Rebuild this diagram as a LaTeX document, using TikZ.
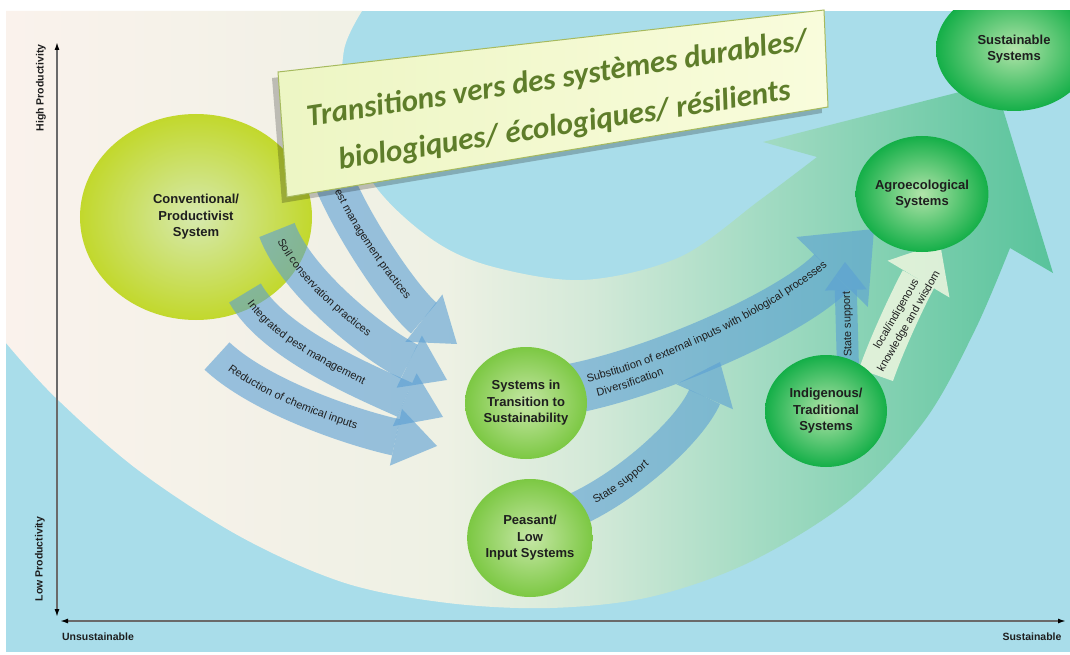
\documentclass[tikz,border=0pt]{standalone}
\usepackage{fontspec}
\setmainfont{Liberation Sans}
\newfontfamily\titlef{Carlito}
\usetikzlibrary{arrows.meta,shapes.geometric,decorations.text}

\definecolor{bgblue}{HTML}{A9DDEA}
\definecolor{cream}{HTML}{FAF2EC}
\definecolor{creamb}{HTML}{EEF1E4}
\definecolor{swgA}{HTML}{D3E9D8}
\definecolor{swgB}{HTML}{A3DBC3}
\definecolor{swgC}{HTML}{58C39B}
\definecolor{arrblue}{HTML}{5A9FD4}
\definecolor{lightarr}{HTML}{EEF6DF}
\definecolor{convin}{HTML}{D6E9AE}
\definecolor{convout}{HTML}{C2D82C}
\definecolor{midin}{HTML}{C6E7A6}
\definecolor{midout}{HTML}{7CC843}
\definecolor{darkin}{HTML}{B2E4AA}
\definecolor{darkout}{HTML}{14AF48}
\definecolor{txt}{HTML}{1E1E1E}
\definecolor{titlegreen}{HTML}{5E7D2A}
\definecolor{boxA}{HTML}{EDF6C4}
\definecolor{boxB}{HTML}{F9FCDC}
\definecolor{boxline}{HTML}{A6BA5E}
\definecolor{axisgray}{HTML}{6A6A6A}

\pgfdeclarehorizontalshading{swooshshade}{100bp}{color(0bp)=(cream); color(25bp)=(cream); color(46bp)=(creamb); color(53bp)=(swgA); color(61bp)=(swgB); color(75bp)=(swgC); color(100bp)=(swgC)}

\newcommand\arrfont{\fontsize{11bp}{13bp}\selectfont\color{txt}}
\newcommand\circfont{\bfseries\fontsize{13bp}{16.5bp}\selectfont}
\newcommand\axfont{\bfseries\fontsize{10.5bp}{12bp}\selectfont}

\begin{document}
\begin{tikzpicture}[x=1bp,y=-1bp,
  blueband/.style={draw=arrblue, opacity=0.6, line width=#1},
  lightband/.style={draw=lightarr, opacity=0.85, line width=#1},
  circ/.style={ellipse, inner sep=0pt, align=center, font=\circfont, text=txt},
  axisline/.style={draw=axisgray, line width=1.5bp},
  axlabel/.style={font=\axfont, text=txt, inner sep=0pt}]
\useasboundingbox (0,0) rectangle (1070,655);
\fill[white] (0,0) rectangle (1070,655);
\begin{scope}
\clip (6,11) rectangle (1070,652);
\fill[bgblue] (6,11) rectangle (1070,652);
% big swoosh
\shade[shading=swooshshade] (6,11) -- (362,11)
  -- plot[smooth,tension=0.55] coordinates {(362,11) (344,50) (345,110) (373,183) (430,238) (490,266) (583,280) (680,257) (760,200) (817,157)}
  -- (763,142) -- (995,83) -- (1053,273)
  -- plot[smooth,tension=0.55] coordinates {(1010,248) (975,330) (925,420) (850,500) (750,562) (650,597) (550,608) (448,603) (345,583) (241,537) (138,470) (55,397) (6,343)}
  -- cycle;

% right-hand arrows (under circles)
\coordinate (eS) at (565,390); \coordinate (eT) at (874,229);
\draw[blueband=50bp, -{Triangle[width=100bp,length=60bp,line width=0pt]}] (eS) .. controls (650,375) and (790,315) .. (eT);
\path[decorate, decoration={text along path, text={|\arrfont|Substitution of external inputs with biological processes}, text align={left, left indent=24bp}, raise=3bp}] (eS) .. controls (650,375) and (790,315) .. (eT);
\path[decorate, decoration={text along path, text={|\arrfont|Diversification}, text align={left, left indent=30bp}, raise=-13bp}] (eS) .. controls (650,375) and (790,315) .. (eT);

\coordinate (fS) at (575,510); \coordinate (fT) at (720,362);
\draw[blueband=34bp, -{Triangle[width=62bp,length=38bp,line width=0pt]}] (fS) .. controls (630,485) and (690,430) .. (fT);
\path[decorate, decoration={text along path, text={|\arrfont|State support}, text align={left, left indent=21bp}, raise=-4bp}] (fS) .. controls (630,485) and (690,430) .. (fT);

\coordinate (gS) at (848,368); \coordinate (gT) at (845,262);
\draw[blueband=22bp, -{Triangle[width=42bp,length=28bp,line width=0pt]}] (gS) -- (gT);
\path[decorate, decoration={text along path, text={|\arrfont|State support}, text align={left, left indent=11bp}, raise=-4bp}] (gS) -- (gT);

\coordinate (hS) at (876,375); \coordinate (hT) at (940,243);
\draw[lightband=36bp, -{Triangle[width=72bp,length=42bp,line width=0pt]}] (hS) .. controls (890,335) and (915,285) .. (hT);
\node[rotate=60, align=center, font=\fontsize{11bp}{14.5bp}\selectfont, text=txt, inner sep=0pt] (hlab) at (903,318) {local/indigenous\\knowledge and wisdom};

% circles
\node[circ, minimum width=122bp, minimum height=112bp, inner color=midin, outer color=midout] (trans) at (526,403) {Systems in\\Transition to\\Sustainability};
\node[circ, minimum width=124bp, minimum height=118bp, inner color=midin, outer color=midout] (peas) at (530,538) {Peasant/\\Low\\Input Systems};
\node[circ, minimum width=122bp, minimum height=112bp, inner color=darkin, outer color=darkout] (indig) at (826,411) {Indigenous/\\Traditional\\Systems};
\node[circ, minimum width=130bp, minimum height=116bp, inner color=darkin, outer color=darkout] (agro) at (922,194) {Agroecological\\Systems};
\node[circ, minimum width=156bp, minimum height=124bp, inner color=darkin, outer color=darkout] (sust) at (1014,49) {Sustainable\\Systems};
\node[circ, minimum width=232bp, minimum height=206bp, inner color=convin, outer color=convout] (conv) at (196,217) {Conventional/\\Productivist\\System};

% left-hand blue arrows
\coordinate (aS) at (322,140); \coordinate (aT) at (457,344);
\draw[blueband=40bp, -{Triangle[width=60bp,length=42bp,line width=0pt]}] (aS) .. controls (328,195) and (402,301) .. (aT);
\path[decorate, decoration={text along path, text={|\arrfont|Pest management practices}, text align={left, left indent=45bp}, raise=-4bp}] (aS) .. controls (328,195) and (402,301) .. (aT);

\coordinate (bS) at (277,230); \coordinate (bT) at (447,380);
\draw[blueband=38bp, -{Triangle[width=58bp,length=42bp,line width=0pt]}] (bS) .. controls (296,282) and (375,345) .. (bT);
\path[decorate, decoration={text along path, text={|\arrfont|Soil conservation practices}, text align={left, left indent=10bp}, raise=-4bp}] (bS) .. controls (296,282) and (375,345) .. (bT);

\coordinate (cS) at (245,293); \coordinate (cT) at (443,417);
\draw[blueband=37bp, -{Triangle[width=58bp,length=42bp,line width=0pt]}] (cS) .. controls (273,343) and (363,381) .. (cT);
\path[decorate, decoration={text along path, text={|\arrfont|Integrated pest management}, text align={left, left indent=10bp}, raise=-4bp}] (cS) .. controls (273,343) and (363,381) .. (cT);

\coordinate (dS) at (217,356); \coordinate (dT) at (437,446);
\draw[blueband=37bp, -{Triangle[width=58bp,length=42bp,line width=0pt]}] (dS) .. controls (262,398) and (357,429) .. (dT);
\path[decorate, decoration={text along path, text={|\arrfont|Reduction of chemical inputs}, text align={left, left indent=17bp}, raise=-4bp}] (dS) .. controls (262,398) and (357,429) .. (dT);

% axes
\coordinate (ytop) at (57,42); \coordinate (ybot) at (57,617);
\coordinate (xleft) at (60,621); \coordinate (xright) at (1066,621);
\draw[axisline, {Latex[length=8bp,width=5bp,color=black]}-{Latex[length=8bp,width=5bp,color=black]}] (ybot) -- (ytop);
\draw[axisline, {Latex[length=8bp,width=5bp,color=black]}-{Latex[length=8bp,width=5bp,color=black]}] (xleft) -- (xright);
\node[axlabel, rotate=90] (hp) at (41,88) {High Productivity};
\node[axlabel, rotate=90] (lp) at (40,559) {Low Productivity};
\node[axlabel] (uns) at (98,637) {Unsustainable};
\node[axlabel] (sus) at (1032,637) {Sustainable};
\end{scope}

% title box
\fill[black, opacity=0.22] (272,78) -- (818,16) -- (822,113) -- (282,203) -- cycle;
\shade[left color=boxA, right color=boxB, draw=boxline, line width=1bp] (278,72) -- (824,10) -- (828,107) -- (287,197) -- cycle;
\node[rotate=8.8, align=center, text=titlegreen, inner sep=0pt, font=\titlef\bfseries\itshape\fontsize{31bp}{47bp}\selectfont] (title) at (561,103) {Transitions vers des systèmes durables/\\biologiques/ écologiques/ résilients};
\end{tikzpicture}
\end{document}
